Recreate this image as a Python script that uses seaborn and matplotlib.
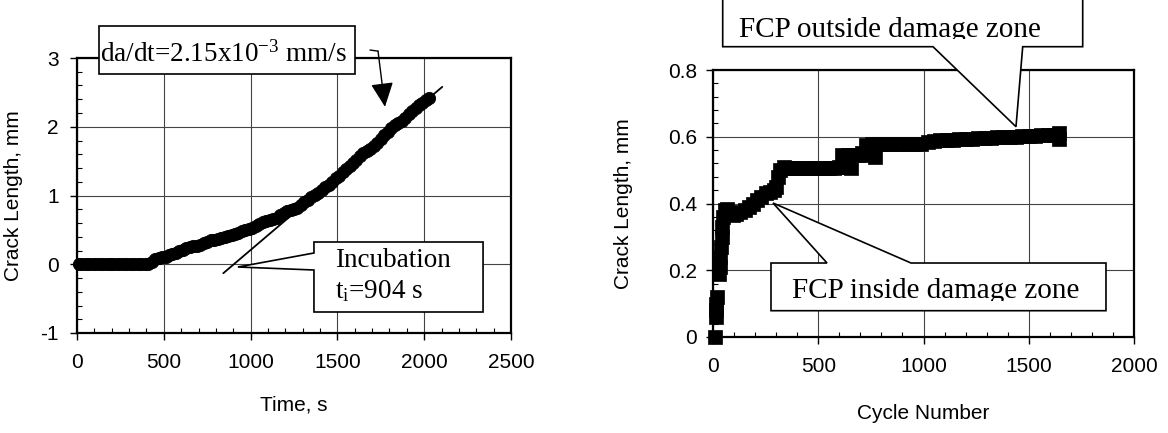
import matplotlib
matplotlib.use("Agg")
import matplotlib.pyplot as plt
import seaborn as sns
from matplotlib.patches import Polygon, Rectangle
from matplotlib.ticker import MultipleLocator

# ---------------- data ----------------
time_s = [10, 30, 50, 70, 90, 110, 130, 150, 170, 190, 210, 230, 250, 270, 290,
          310, 330, 350, 370, 390, 410, 430, 450, 470, 490, 510, 530, 550, 570,
          590, 610, 630, 650, 670, 690, 710, 730, 750, 770, 790, 810, 830, 850,
          870, 890, 910, 930, 950, 970, 990, 1010, 1030, 1050, 1070, 1090, 1110,
          1130, 1150, 1170, 1190, 1210, 1230, 1250, 1270, 1290, 1310, 1330, 1350,
          1370, 1390, 1410, 1430, 1450, 1470, 1490, 1510, 1530, 1550, 1570, 1590,
          1610, 1630, 1650, 1670, 1690, 1710, 1730, 1750, 1770, 1790, 1810, 1830,
          1850, 1870, 1890, 1910, 1930, 1950, 1970, 1990, 2010, 2030]
crack_time = [0, 0, 0, 0, 0, 0, 0, 0, 0, 0, 0, 0, 0, 0, 0,
              0, 0, 0, 0, 0, 0.01, 0.04, 0.07, 0.09, 0.10, 0.11, 0.13, 0.15, 0.17,
              0.19, 0.21, 0.23, 0.25, 0.26, 0.27, 0.28, 0.31, 0.33, 0.35, 0.36, 0.37, 0.38, 0.40,
              0.41, 0.43, 0.44, 0.46, 0.48, 0.50, 0.51, 0.53, 0.56, 0.58, 0.61, 0.63, 0.65,
              0.66, 0.68, 0.71, 0.74, 0.77, 0.79, 0.80, 0.82, 0.86, 0.90, 0.94, 0.98,
              1.01, 1.04, 1.08, 1.12, 1.16, 1.20, 1.25, 1.29, 1.34, 1.38, 1.43, 1.47,
              1.52, 1.57, 1.62, 1.65, 1.68, 1.72, 1.77, 1.82, 1.88, 1.93, 1.98, 2.02,
              2.05, 2.09, 2.13, 2.18, 2.23, 2.27, 2.31, 2.35, 2.39, 2.42]
fit_time = [843, 2104]
fit_crack = [-0.13, 2.58]

cycles = [8, 14, 15, 16, 17, 30, 32, 35, 38, 41, 44, 48, 55, 65, 80, 95, 110,
          130, 150, 170, 190, 210, 230, 250, 270, 290, 300, 310, 320, 335, 355,
          375, 400, 425, 450, 475, 500, 525, 550, 575, 600, 612, 625, 640, 655,
          668, 690, 710, 725, 740, 755, 770, 785, 810, 840, 870, 900, 930, 960,
          990, 1020, 1050, 1080, 1110, 1140, 1170, 1200, 1230, 1260, 1290, 1320,
          1350, 1380, 1410, 1440, 1470, 1500, 1530, 1560, 1590, 1620, 1640, 1645, 1645]
crack_cycles = [0.0, 0.06, 0.08, 0.10, 0.12, 0.19, 0.21, 0.24, 0.27, 0.30, 0.33, 0.36, 0.38,
                0.385, 0.37, 0.365, 0.37, 0.375, 0.38, 0.39, 0.40, 0.41, 0.42, 0.43, 0.435,
                0.44, 0.45, 0.48, 0.50, 0.51, 0.505, 0.505, 0.505, 0.505, 0.505, 0.505,
                0.505, 0.505, 0.505, 0.505, 0.51, 0.545, 0.51, 0.545, 0.505, 0.545, 0.545,
                0.55, 0.575, 0.545, 0.578, 0.54, 0.578, 0.578, 0.578, 0.578, 0.578, 0.578,
                0.578, 0.578, 0.583, 0.588, 0.59, 0.59, 0.59, 0.592, 0.593, 0.594, 0.595,
                0.596, 0.597, 0.598, 0.599, 0.60, 0.60, 0.602, 0.603, 0.603, 0.604, 0.605,
                0.606, 0.605, 0.592, 0.612]

left_xticks = [0, 500, 1000, 1500, 2000, 2500]
left_yticks = [-1, 0, 1, 2, 3]
left_ytick_labels = ["-1", "0", "1", "2", "3"]
right_xticks = [0, 500, 1000, 1500, 2000]
right_yticks = [0, 0.2, 0.4, 0.6, 0.8]
right_ytick_labels = ["0", "0.2", "0.4", "0.6", "0.8"]

# ---------------- style ----------------
sns.set_theme(style="white")
plt.rcParams["font.family"] = ["Liberation Sans", "DejaVu Sans"]
plt.rcParams["mathtext.fontset"] = "custom"
plt.rcParams["mathtext.rm"] = "Liberation Serif"
plt.rcParams["mathtext.it"] = "Liberation Serif:italic"
SERIF = ["Liberation Serif", "DejaVu Serif"]
FS = 15

W, H = 1168, 433
fig = plt.figure(figsize=(W / 100, H / 100), dpi=100)
axL = fig.add_axes([77 / W, (H - 333) / H, 434 / W, 275 / H])
axR = fig.add_axes([713 / W, (H - 337) / H, 421 / W, 267 / H])


def style_axes(ax, xticks, yticks, ylabels, xminor, yminor, ypad):
    ax.set_xticks(xticks)
    ax.set_xticklabels([str(v) for v in xticks])
    ax.set_yticks(yticks)
    ax.set_yticklabels(ylabels)
    ax.xaxis.set_minor_locator(MultipleLocator(xminor))
    ax.yaxis.set_minor_locator(MultipleLocator(yminor))
    ax.tick_params(which="both", bottom=True, left=True, top=False, right=False)
    ax.tick_params(which="major", direction="out", length=5, width=1.0,
                   color="black", labelsize=FS, labelcolor="black")
    ax.tick_params(axis="x", which="major", pad=9.5)
    ax.tick_params(axis="y", which="major", pad=ypad)
    ax.tick_params(which="minor", direction="in", length=3.6, width=0.8, color="black")
    ax.grid(True, which="major", color="#444444", lw=0.8)
    ax.set_axisbelow(True)
    for sp in ax.spines.values():
        sp.set_linewidth(1.6)
        sp.set_color("black")
        sp.set_visible(True)


# ---------------- left panel ----------------
sns.scatterplot(x=time_s, y=crack_time, ax=axL, marker="o", s=78, color="black",
                edgecolor="black", linewidth=0.6, zorder=3, clip_on=False, legend=False)
sns.lineplot(x=fit_time, y=fit_crack, ax=axL, color="black", lw=1.3, zorder=4, legend=False)
style_axes(axL, left_xticks, left_yticks, left_ytick_labels, 100, 0.2, 8.0)
axL.set_xlabel("Time, s", fontsize=FS, color="black")
axL.set_ylabel("Crack Length, mm", fontsize=FS, color="black")
axL.xaxis.set_label_coords(0.5, -0.228)
axL.yaxis.set_label_coords(-0.125, 0.5)

# da/dt box + arrow
boxL1 = Polygon([(126.7, 3.465), (1601.4, 3.465), (1601.4, 2.767), (126.7, 2.767)],
                closed=True, facecolor="white", edgecolor="black", lw=1.2,
                zorder=5, clip_on=False)
axL.add_patch(boxL1)
axL.text(132, 2.942, r"da/dt=2.15x10$^{\mathregular{-3}}$ mm/s", family=SERIF,
         fontsize=19.5, ha="left", va="baseline", color="black", zorder=6)
axL.plot([1688, 1734], [3.116, 3.10], color="black", lw=1.0, clip_on=False, zorder=6)
axL.annotate("", xy=(1774, 2.29), xytext=(1734, 3.10), annotation_clip=False,
             arrowprops=dict(arrowstyle="-|>,head_length=0.75,head_width=0.35",
                             mutation_scale=20, color="black", lw=1.0,
                             shrinkA=0, shrinkB=0), zorder=6)

# incubation callout
boxL2 = Polygon([(1365, 0.3236), (2339, 0.3236), (2339, -0.6945), (1365, -0.6945),
                 (1365, -0.0836), (927, -0.04), (1365, 0.1636)],
                closed=True, facecolor="white", edgecolor="black", lw=1.2,
                zorder=5, clip_on=False)
axL.add_patch(boxL2)
axL.text(1486, -0.036, "Incubation", family=SERIF, fontsize=19.5, ha="left",
         va="baseline", color="black", zorder=6)
axL.text(1486, -0.487, r"$\mathregular{t_i}$=904 s", family=SERIF, fontsize=19.5,
         ha="left", va="baseline", color="black", zorder=6)

axL.set_xlim(0, 2500)
axL.set_ylim(-1, 3)

# ---------------- right panel ----------------
sns.scatterplot(x=cycles, y=crack_cycles, ax=axR, marker="s", s=115, color="black",
                edgecolor="black", linewidth=0.5, zorder=3, clip_on=False, legend=False)
style_axes(axR, right_xticks, right_yticks, right_ytick_labels, 100, 0.04, 6.5)
axR.set_xlabel("Cycle Number", fontsize=FS, color="black")
axR.set_ylabel("Crack Length, mm", fontsize=FS, color="black")
axR.xaxis.set_label_coords(0.5, -0.25)
axR.yaxis.set_label_coords(-0.19, 0.5)

boxR1 = Polygon([(46.1, 1.0247), (1756.3, 1.0247), (1756.3, 0.8698), (1471.3, 0.8698),
                 (1439.4, 0.6301), (1045.1, 0.8698), (46.1, 0.8698)],
                closed=True, facecolor="white", edgecolor="black", lw=1.2,
                zorder=5, clip_on=False)
axR.add_patch(boxR1)
t1 = axR.text(840.9, 0.8998, "FCP outside damage zone", family=SERIF, fontsize=21,
              ha="center", va="baseline", color="black", zorder=6, clip_on=True)
t1.set_clip_path(Rectangle((46.1, 0.8929), 1710, 0.2, transform=axR.transData))

boxR2 = Polygon([(275.5, 0.2217), (541.6, 0.2217), (285.0, 0.4015), (940.6, 0.2217),
                 (1866.9, 0.2217), (1866.9, 0.0788), (275.5, 0.0788)],
                closed=True, facecolor="white", edgecolor="black", lw=1.2,
                zorder=5, clip_on=False)
axR.add_patch(boxR2)
t2 = axR.text(1059.4, 0.1169, "FCP inside damage zone", family=SERIF, fontsize=21,
              ha="center", va="baseline", color="black", zorder=6, clip_on=True)
t2.set_clip_path(Rectangle((275.5, 0.1079), 1590, 0.114, transform=axR.transData))

axR.set_xlim(0, 2000)
axR.set_ylim(0, 0.8)

fig.savefig("out.png", dpi=100, facecolor="white")
